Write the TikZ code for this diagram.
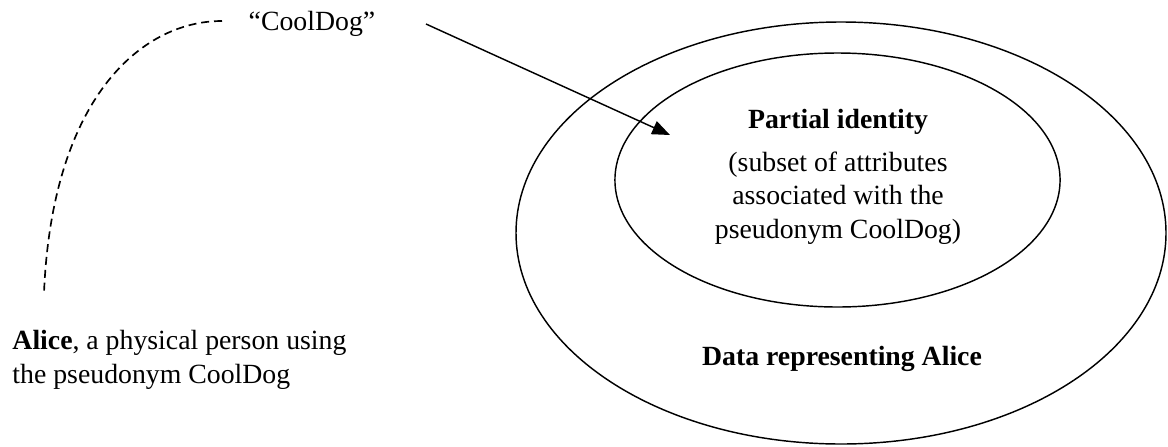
\documentclass[tikz,border=0pt]{standalone}
\usepackage{fontspec}
\setmainfont{Liberation Serif}
\usetikzlibrary{arrows.meta,shapes.geometric}

\tikzset{
  ring/.style={draw, ellipse, line width=0.65pt, inner sep=0pt, outer sep=0pt},
  label/.style={font=\fontsize{12.5}{14.9}\selectfont, inner sep=0pt, align=center},
  heading/.style={label, font=\fontsize{12.5}{14.9}\selectfont\bfseries},
  link/.style={line width=0.65pt, -{Triangle[length=8pt,width=6.3pt]}},
  alias/.style={line width=0.75pt, dash pattern=on 3.6pt off 2.2pt},
}

\begin{document}
\begin{tikzpicture}[x=0.45pt,y=-0.45pt]
  \useasboundingbox (0,0) rectangle (1168,446);

  % data sets
  \node[ring, minimum width=292.5pt, minimum height=189.9pt] (outer) at (841,233) {};
  \node[ring, minimum width=200.3pt, minimum height=114.3pt] (inner) at (837.5,180) {};

  % labels (base anchor of a multi-line node sits on its last line)
  \node[heading, anchor=base] (pid) at (838,128) {Partial identity};
  \node[label, anchor=base] (subset) at (838,238)
    {(subset of attributes\\associated with the\\pseudonym CoolDog)};
  \node[heading, anchor=base] (data) at (842,365) {Data representing Alice};

  \node[label, anchor=base] (nick) at (312,30) {“CoolDog”};
  \node[label, anchor=base west, align=left] (alice) at (12,383)
    {\textbf{Alice}, a physical person using\\the pseudonym CoolDog};

  % connectors
  \coordinate (d0) at (222,21);
  \coordinate (d1) at (44,293);
  \draw[alias] (d0) .. controls (140,21) and (52,100) .. (d1);

  \coordinate (a0) at (426,24);
  \coordinate (a1) at (670,135);
  \draw[link] (a0) -- (a1);
\end{tikzpicture}
\end{document}
